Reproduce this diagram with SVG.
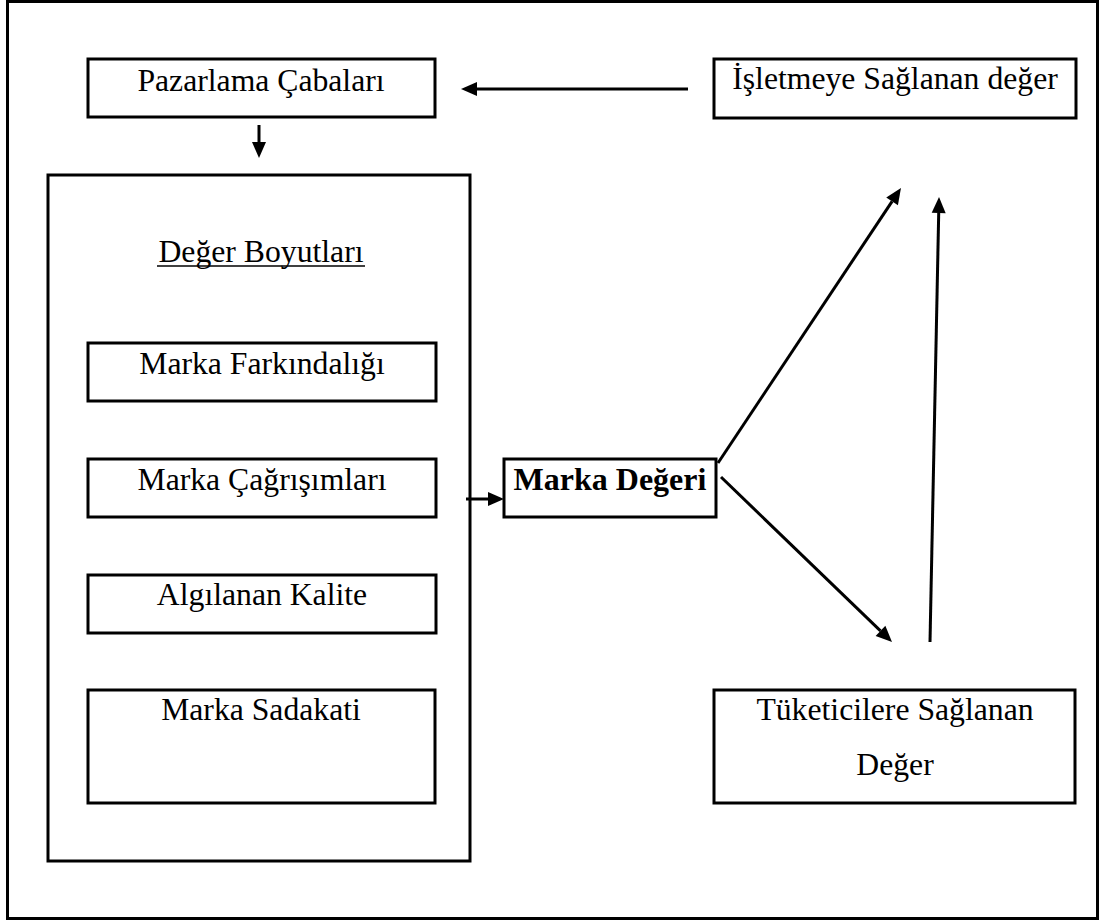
<svg xmlns="http://www.w3.org/2000/svg" width="1103" height="922" viewBox="0 0 1103 922">
<style>
  .box{fill:#fff;stroke:#000;stroke-width:3}
  .t{font-family:"Liberation Serif","Times New Roman",serif;font-size:31.7px;fill:#000;text-anchor:middle}
  .b{font-weight:bold;font-size:32px}
  .c{stroke:#000;stroke-width:3;fill:none;marker-end:url(#ah)}
</style>
<defs>
  <marker id="ah" markerUnits="userSpaceOnUse" markerWidth="16" markerHeight="14" viewBox="0 -7 16 14" refX="0" refY="0" orient="auto" overflow="visible">
    <path d="M0,-7 L16,0 L0,7 z" fill="#000"/>
  </marker>
</defs>
<rect x="7.5" y="1.5" width="1090" height="917" fill="#fff" stroke="#000" stroke-width="3"/>

<g id="pazarlama">
  <rect class="box" x="88" y="59" width="347" height="58"/>
  <text class="t" x="261" y="91">Pazarlama Çabaları</text>
</g>
<g id="isletmeye">
  <rect class="box" x="714" y="59" width="362" height="59"/>
  <text class="t" x="895" y="89">İşletmeye Sağlanan değer</text>
</g>
<g id="deger-boyutlari">
  <rect class="box" x="48" y="175" width="422" height="686"/>
  <text class="t" x="261" y="262">Değer Boyutları</text>
  <line x1="157" y1="266" x2="365" y2="266" stroke="#000" stroke-width="1.6"/>
</g>
<g id="farkindalik">
  <rect class="box" x="88" y="343" width="348" height="58"/>
  <text class="t" x="262" y="374">Marka Farkındalığı</text>
</g>
<g id="cagrisimlar">
  <rect class="box" x="88" y="459" width="348" height="58"/>
  <text class="t" x="262" y="490">Marka Çağrışımları</text>
</g>
<g id="kalite">
  <rect class="box" x="88" y="575" width="348" height="58"/>
  <text class="t" x="262" y="605">Algılanan Kalite</text>
</g>
<g id="sadakat">
  <rect class="box" x="88" y="690" width="347" height="113"/>
  <text class="t" x="261" y="720">Marka Sadakati</text>
</g>
<g id="marka-degeri">
  <rect class="box" x="504" y="459" width="212" height="58"/>
  <text class="t b" x="610" y="490">Marka Değeri</text>
</g>
<g id="tuketicilere">
  <rect class="box" x="714" y="690" width="361" height="113"/>
  <text class="t" x="895" y="720">Tüketicilere Sağlanan</text>
  <text class="t" x="895" y="775">Değer</text>
</g>

<g id="connectors">
  <line class="c" x1="688" y1="89" x2="477" y2="89"/>
  <line class="c" x1="259" y1="125" x2="259" y2="142"/>
  <line class="c" x1="466" y1="499" x2="488" y2="499"/>
  <line class="c" x1="718" y1="463" x2="892.1" y2="201.3"/>
  <line class="c" x1="930" y1="642" x2="938.7" y2="213"/>
  <line class="c" x1="721" y1="477" x2="880.5" y2="630.9"/>
</g>
</svg>
